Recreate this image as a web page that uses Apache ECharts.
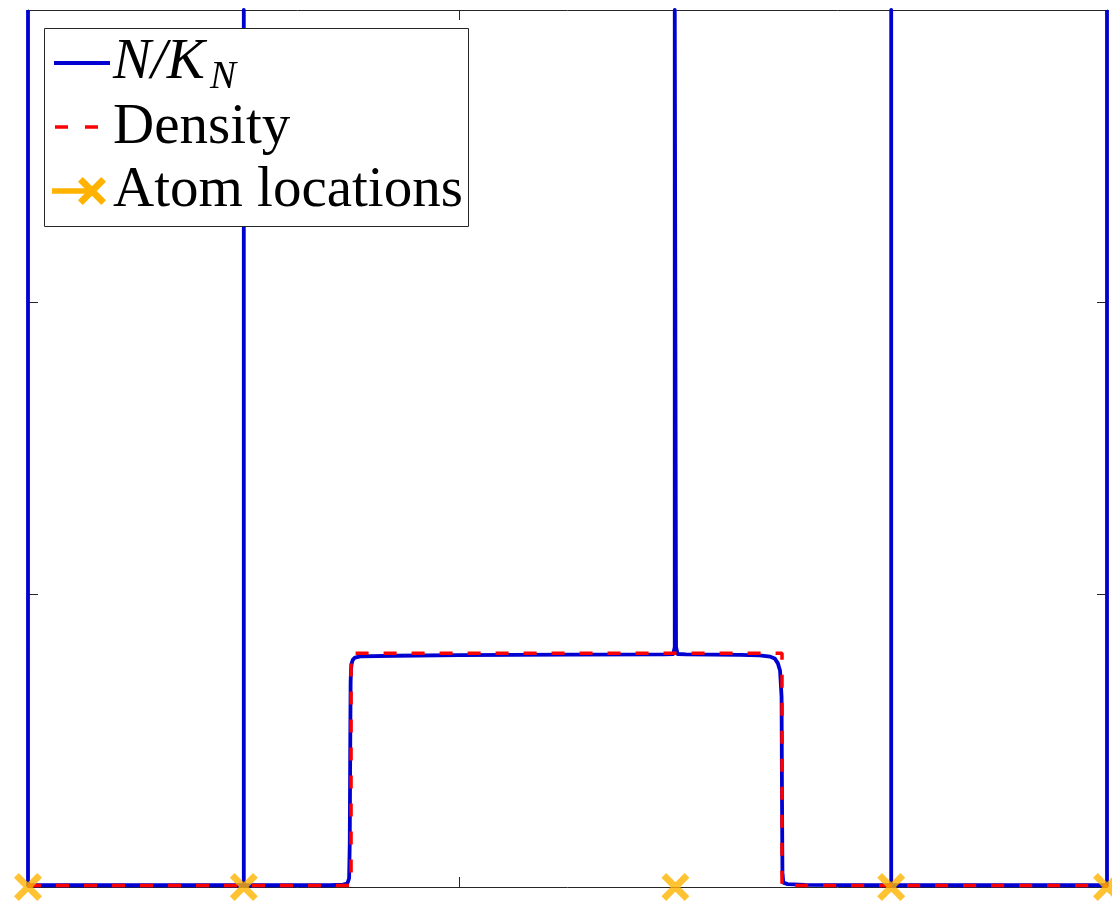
<!DOCTYPE html>
<html><head><meta charset="utf-8">
<script src="https://cdn.jsdelivr.net/npm/echarts@6/dist/echarts.min.js"></script>
<style>html,body{margin:0;padding:0;background:#fff}#c{width:1112px;height:901px}</style>
</head><body><div id="c"></div>
<script>
// N/K_N curve (spikes at atoms clipped at the top of the axes)
const nkX = [0,0,1,1,1,1.40,1.46,1.48,1.488,1.491,1.493,1.495,1.497,1.50,1.505,1.515,1.54,1.7,2.0,2.5,2.95,2.99,2.997,2.997,3.003,3.003,3.01,3.05,3.3,3.39,3.44,3.46,3.475,3.485,3.492,3.494,3.496,3.50,3.52,3.6,4,4,4,5,5];
const nkY = [3,0.006,0.006,3,0.006,0.006,0.008,0.012,0.03,0.15,0.45,0.70,0.745,0.765,0.777,0.785,0.789,0.791,0.793,0.795,0.796,0.797,0.82,3,3,0.82,0.797,0.796,0.794,0.792,0.788,0.782,0.765,0.74,0.65,0.3,0.05,0.015,0.01,0.007,0.006,3,0.006,0.006,3];
// Density (step)
const densX = [0,1.497,1.497,3.494,3.494,5];
const densY = [0.005,0.005,0.80,0.80,0.005,0.005];
// Atom locations
const atomX = [0,1,3,4,5];
const atomY = [0,0,0,0,0];
// Axis ticks
const xMin = 0, xMax = 5, xStep = 2;
const yMin = 0, yMax = 3, yStep = 1;
const legendNames = ['N/K', 'Density', 'Atom locations'];

const BLUE = '#0000d0', RED = '#ff0000', ORANGE = '#ffb300', AX = '#262626';
const xPts = [[0,17],[17,0],[50,33],[83,0],[100,17],[67,50],[100,83],[83,100],[50,67],[17,100],[0,83],[33,50]];
const xPath = 'path://M' + xPts.map(p => p.join(',')).join(' L') + ' Z';
function xPoly(cx, cy, s) { return xPts.map(p => [cx + (p[0] - 50) * s / 100, cy + (p[1] - 50) * s / 100]); }

const zip = (a, b) => a.map((v, i) => [v, b[i]]);
const axisCommon = {
  axisLine: {show: true, onZero: false, lineStyle: {color: AX, width: 1}},
  axisTick: {show: true, inside: true, length: 10, lineStyle: {color: AX, width: 1}},
  axisLabel: {show: false},
  splitLine: {show: false}
};
const chart = echarts.init(document.getElementById('c'), null, {renderer: 'canvas'});
const font = '"Liberation Serif", "DejaVu Serif", serif';
chart.setOption({
  animation: false,
  backgroundColor: '#fff',
  grid: {left: 28, right: 5, top: 10, bottom: 14, containLabel: false},
  xAxis: [
    Object.assign({type: 'value', min: xMin, max: xMax, interval: xStep, position: 'bottom'}, axisCommon),
    Object.assign({type: 'value', min: xMin, max: xMax, interval: xStep, position: 'top'}, axisCommon)
  ],
  yAxis: [
    Object.assign({type: 'value', min: yMin, max: yMax, interval: yStep, position: 'left'}, axisCommon),
    Object.assign({type: 'value', min: yMin, max: yMax, interval: yStep, position: 'right'}, axisCommon)
  ],
  series: [
    {type: 'line', name: legendNames[0], data: zip(nkX, nkY), showSymbol: false, symbol: 'none', clip: false, z: 3,
     lineStyle: {color: BLUE, width: 3.8, join: 'round'}},
    {type: 'line', name: legendNames[1], data: zip(densX, densY), showSymbol: false, symbol: 'none', clip: false, z: 4,
     lineStyle: {color: RED, width: 3.5, type: [13, 15]}},
    {type: 'scatter', name: legendNames[2], data: zip(atomX, atomY), symbol: xPath, symbolSize: 28, clip: false, z: 5,
     itemStyle: {color: ORANGE}}
  ],
  graphic: [
    {type: 'rect', z: 100, shape: {x: 44.5, y: 28.5, width: 424, height: 198},
     style: {fill: '#fff', stroke: AX, lineWidth: 1}},
    {type: 'line', z: 101, shape: {x1: 54, y1: 63, x2: 110, y2: 63}, style: {stroke: BLUE, lineWidth: 3.8}},
    {type: 'line', z: 101, shape: {x1: 55, y1: 127, x2: 98, y2: 127}, style: {stroke: RED, lineWidth: 3.5, lineDash: [13, 17]}},
    {type: 'line', z: 101, shape: {x1: 52, y1: 191, x2: 92, y2: 191}, style: {stroke: ORANGE, lineWidth: 5.5}},
    {type: 'polygon', z: 102, shape: {points: xPoly(92, 191, 28)}, style: {fill: ORANGE}},
    {type: 'text', z: 103, x: 113, y: 63, style: {text: legendNames[0], font: 'italic 57px ' + font, fill: '#000', verticalAlign: 'middle', align: 'left'}},
    {type: 'text', z: 103, x: 210, y: 78, style: {text: 'N', font: 'italic 39px ' + font, fill: '#000', verticalAlign: 'middle', align: 'left'}},
    {type: 'text', z: 103, x: 113, y: 128, style: {text: legendNames[1], font: '57px ' + font, fill: '#000', verticalAlign: 'middle', align: 'left'}},
    {type: 'text', z: 103, x: 113, y: 191, style: {text: legendNames[2], font: '57px ' + font, fill: '#000', verticalAlign: 'middle', align: 'left'}}
  ]
});
</script>
</body></html>
